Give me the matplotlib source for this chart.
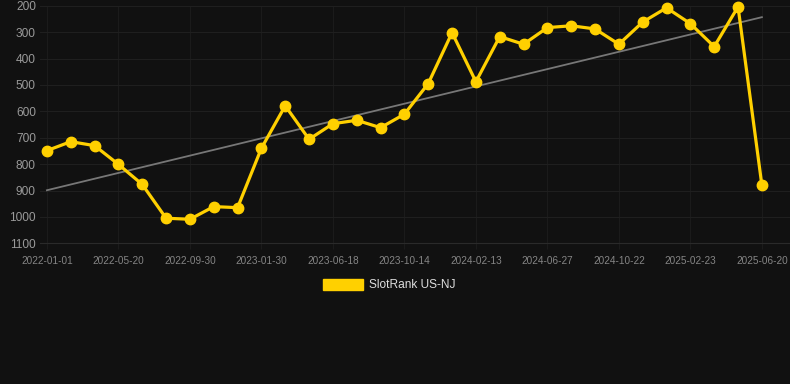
import matplotlib
matplotlib.use("Agg")
import matplotlib.pyplot as plt
import numpy as np

plt.rcParams['font.family'] = ['Liberation Sans', 'DejaVu Sans']

# rank per sample (lower is better), 31 samples
ranks = [749, 715, 730, 801, 877, 1005, 1009, 961, 965, 740,
         579, 706, 647, 634, 662, 611, 495, 302, 488, 317,
         346, 283, 276, 288, 346, 262, 208, 268, 355, 204, 880]
tick_labels = ["2022-01-01", "2022-05-20", "2022-09-30", "2023-01-30",
               "2023-06-18", "2023-10-14", "2024-02-13", "2024-06-27",
               "2024-10-22", "2025-02-23", "2025-06-20"]
series_name = "SlotRank US-NJ"

x = np.arange(len(ranks))
k, b = np.polyfit(x, ranks, 1)

bg = "#111111"
fig = plt.figure(figsize=(7.9, 3.84), dpi=100, facecolor=bg)
ax = fig.add_axes([40/790, 1 - 243.3/384, 750/790, (243.3 - 5.7)/384], facecolor=bg)

ax.plot(x, k * x + b, color="#777777", lw=1.3, zorder=2)
line, = ax.plot(x, ranks, color="#FFD000", lw=2.3, marker="o", ms=7.5,
                zorder=3, clip_on=False)

ax.set_ylim(1100, 200)
ax.set_xlim(-0.29, 31.18)
ax.set_yticks(range(200, 1101, 100))
ax.set_xticks(x[::3])
ax.set_xticklabels(tick_labels)

ax.grid(True, axis="y", color="#1f1f1f", lw=0.8)
ax.grid(True, axis="x", color="#1b1b1b", lw=0.8)
for s in ax.spines.values():
    s.set_visible(False)
ax.spines["bottom"].set_visible(True)
ax.spines["bottom"].set_color("#2a2a2a")
ax.spines["bottom"].set_linewidth(0.8)
ax.tick_params(axis="y", length=0, pad=3, labelsize=8.6, labelcolor="#9a9a9a")
ax.tick_params(axis="x", length=4, color="#1b1b1b", pad=5, labelsize=7.2,
               labelcolor="#858585")

# legend: coloured box and label below the chart
fig.patches.append(plt.Rectangle((323/790, 1 - 290/384), 40/790, 11/384,
                                 transform=fig.transFigure, color="#FFD000"))
fig.text(369/790, 1 - 284.5/384, series_name, color="#dddddd", fontsize=8.6,
         va="center", ha="left")

fig.savefig("out.png", dpi=100, facecolor=bg)
